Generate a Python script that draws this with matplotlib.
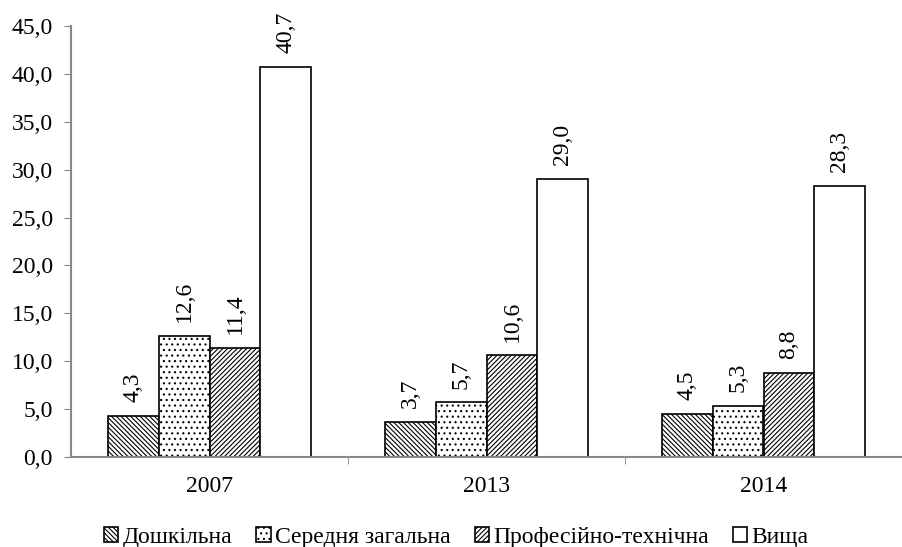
import numpy as np
import matplotlib
matplotlib.use('Agg')
import matplotlib.pyplot as plt

plt.rcParams['font.family'] = ['Liberation Serif', 'DejaVu Serif']
plt.rcParams['hatch.linewidth'] = 0.8

years = ['2007', '2013', '2014']
series = ['Дошкільна', 'Середня загальна', 'Професійно-технічна', 'Вища']
values = [
    [4.3, 3.7, 4.5],
    [12.6, 5.7, 5.3],
    [11.4, 10.6, 8.8],
    [40.7, 29.0, 28.3],
]
hatches = ['\\' * 7, '...', '/' * 7, '']

fig = plt.figure(figsize=(9.02, 5.47), dpi=100)
ax = fig.add_axes([71/902, 1-457/547, 1-71/902, (457-26)/547])

x = np.arange(len(years))
w = 0.184
for i, (name, vals) in enumerate(zip(series, values)):
    pos = x + (i - 1.5) * w
    bars = ax.bar(pos, vals, w, facecolor='white', edgecolor='black',
                  linewidth=1.2, hatch=hatches[i], label=name)
    for b, v in zip(bars, vals):
        ax.annotate(f'{v:.1f}'.replace('.', ','), (b.get_x() + w/2, v),
                    xytext=(0, 10), textcoords='offset points',
                    rotation=90, ha='center', va='bottom', fontsize=17)

ax.set_xlim(-0.5, 2.5)
ax.set_ylim(0, 45)
ax.set_yticks(np.arange(0, 46, 5))
ax.set_yticklabels([f'{t:.1f}'.replace('.', ',') for t in np.arange(0, 46, 5)])
ax.set_xticks(x)
ax.set_xticklabels(years)
ax.set_xticks([0.5, 1.5, 2.5], minor=True)
ax.tick_params(axis='x', which='major', length=0, pad=14, labelsize=17)
ax.tick_params(axis='x', which='minor', length=5, color='#888888', direction='out')
ax.tick_params(axis='y', length=5, color='#888888', labelsize=17, pad=8)

for s in ['top', 'right']:
    ax.spines[s].set_visible(False)
for s in ['left', 'bottom']:
    ax.spines[s].set_color('#888888')
    ax.spines[s].set_linewidth(1.5)

fig.legend(loc='lower center', bbox_to_anchor=(0.506, -0.04), ncol=4, frameon=False,
           fontsize=17, handlelength=0.6, handleheight=0.6, handletextpad=0.2,
           columnspacing=1.0)

fig.savefig('out.png', dpi=100)
